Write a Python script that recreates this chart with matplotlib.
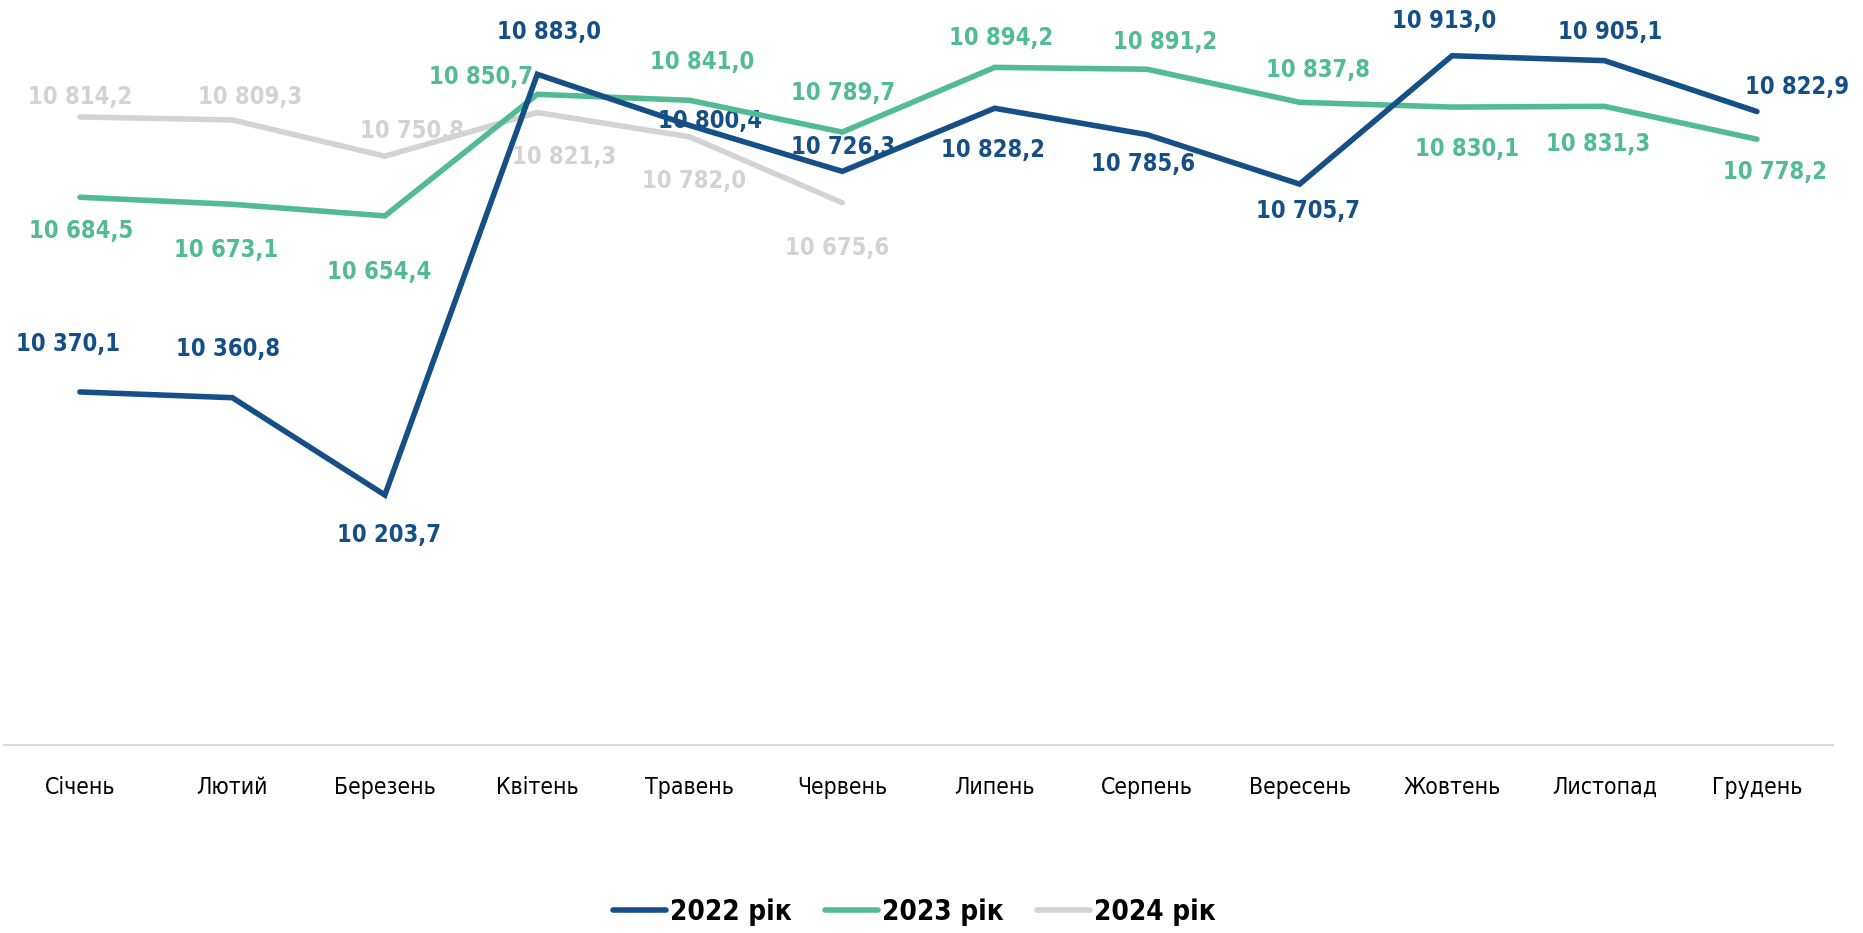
import matplotlib.pyplot as plt

plt.rcParams['font.family'] = ['DejaVu Sans']
plt.rcParams['font.stretch'] = 'condensed'

# Дані
months = ['Січень', 'Лютий', 'Березень', 'Квітень', 'Травень', 'Червень',
          'Липень', 'Серпень', 'Вересень', 'Жовтень', 'Листопад', 'Грудень']
y2022 = [10370.1, 10360.8, 10203.7, 10883.0, 10800.4, 10726.3,
         10828.2, 10785.6, 10705.7, 10913.0, 10905.1, 10822.9]
y2023 = [10684.5, 10673.1, 10654.4, 10850.7, 10841.0, 10789.7,
         10894.2, 10891.2, 10837.8, 10830.1, 10831.3, 10778.2]
y2024 = [10814.2, 10809.3, 10750.8, 10821.3, 10782.0, 10675.6]

# Зсуви підписів (пікселі)
off2022 = [(-12, 48), (-4, 49), (4, -40), (12, 42), (20, 4), (1, 24),
           (-2, -42), (-4, -29), (8, -27), (-8, 35), (6, 29), (40, 25)]
off2023 = [(1, -34), (-6, -46), (-6, -56), (-56, 17), (12, 38), (1, 39),
           (6, 29), (18, 27), (18, 32), (15, -42), (-6, -38), (18, -33)]
off2024 = [(0, 20), (18, 23), (27, 25), (27, -44), (4, -44), (-5, -45)]

c2022 = '#154F86'
c2023 = '#52BA94'
c2024 = '#D3D3D3'

def fmt(v):
    s = f'{v:,.1f}'
    return s.replace(',', ' ').replace('.', ',')

fig = plt.figure(figsize=(18.63, 9.33), dpi=100)
ax = fig.add_axes([0.002, 0.2015, 0.982, 0.7965])

series = [(y2024, c2024, off2024, '2024 рік', 3),
          (y2023, c2023, off2023, '2023 рік', 4),
          (y2022, c2022, off2022, '2022 рік', 5)]

for vals, col, offs, name, z in series:
    x = list(range(len(vals)))
    ax.plot(x, vals, color=col, linewidth=4, label=name, zorder=z,
            solid_capstyle='round', solid_joinstyle='miter')
    for xi, v, (dx, dy) in zip(x, vals, offs):
        ax.annotate(fmt(v), (xi, v), xytext=(dx, dy), textcoords='offset pixels',
                    ha='center', va='center', fontsize=17, fontweight='bold',
                    color=col, zorder=2)

ax.set_xlim(-0.5, 11.5)
ax.set_ylim(9800, 11000)
ax.set_xticks(range(12))
ax.set_xticklabels(months, fontsize=16.5)
ax.set_yticks([])
ax.tick_params(axis='x', length=0, pad=22)
for s in ['top', 'left', 'right']:
    ax.spines[s].set_visible(False)
ax.spines['bottom'].set_color('#D9D9D9')
ax.spines['bottom'].set_linewidth(1.5)

handles, labels = ax.get_legend_handles_labels()
leg = fig.legend(handles[::-1], labels[::-1], loc='center', bbox_to_anchor=(0.491, 0.023),
                 ncol=3, frameon=False, prop={'size': 20, 'weight': 'bold'},
                 handlelength=1.9, handletextpad=0.15, columnspacing=1.2)

fig.savefig('out.png', dpi=100)
